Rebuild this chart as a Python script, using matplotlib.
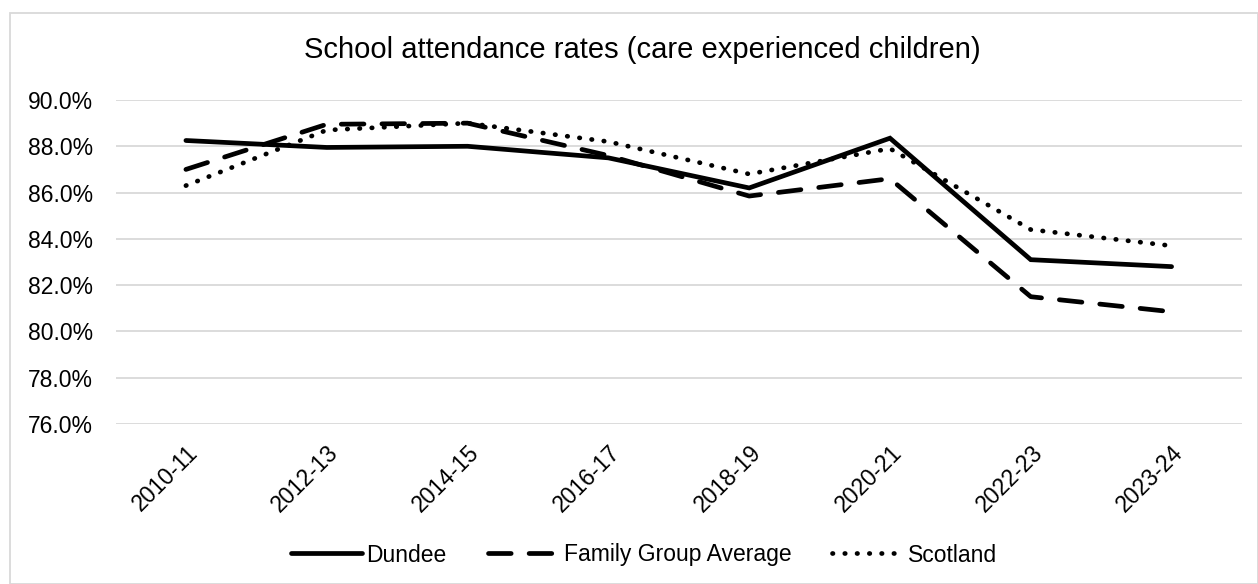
import matplotlib.pyplot as plt
from matplotlib.patches import Rectangle
from matplotlib.ticker import FuncFormatter

years = ["2010-11", "2012-13", "2014-15", "2016-17", "2018-19", "2020-21", "2022-23", "2023-24"]
dundee = [88.25, 87.95, 88.0, 87.5, 86.2, 88.35, 83.1, 82.8]
family_avg = [87.0, 88.95, 89.0, 87.6, 85.85, 86.6, 81.5, 80.85]
scotland = [86.3, 88.7, 89.0, 88.2, 86.8, 87.9, 84.4, 83.7]

plt.rcParams['font.family'] = ['Liberation Sans', 'DejaVu Sans']

W, H = 1258, 584
fig = plt.figure(figsize=(W / 100, H / 100), dpi=100)
ax = fig.add_axes([115.5 / W, 1 - 424 / H, (1242 - 115.5) / W, 324 / H])

x = range(len(years))
ax.plot(x, dundee, color='black', lw=3.4, solid_capstyle='round', solid_joinstyle='miter', label='Dundee')
ax.plot(x, family_avg, color='black', lw=3.4, dashes=(4.8, 3.8), dash_capstyle='round', label='Family Group Average')
ax.plot(x, scotland, color='black', lw=3.4, dashes=(0.1, 2.5), dash_capstyle='round', label='Scotland')

ax.set_xlim(-0.5, len(years) - 0.5)
ax.set_ylim(76, 90)
ax.set_yticks(range(76, 91, 2))
ax.yaxis.set_major_formatter(FuncFormatter(lambda v, p: f"{v:.1f}%"))
ax.set_xticks(list(x))
ax.set_xticklabels(years, rotation=45, ha='right', rotation_mode='anchor')
ax.tick_params(axis='both', length=0, labelsize=16.5, colors='black')
ax.tick_params(axis='x', pad=12)
ax.tick_params(axis='y', pad=16)
ax.grid(axis='y', color='#d9d9d9', lw=1.3)
ax.set_axisbelow(True)
for s in ax.spines.values():
    s.set_visible(False)

fig.text(642 / W, 1 - 50 / H, "School attendance rates (care experienced children)",
         ha='center', va='center', fontsize=21)

leg = fig.legend(loc='center', bbox_to_anchor=(644 / W, 1 - 555 / H), ncol=3, frameon=False,
                 fontsize=16.5, handlelength=3.1, handletextpad=0.2, columnspacing=1.8)

fig.patches.append(Rectangle((10 / W, 0), 1 - 10 / W, 1 - 13 / H, transform=fig.transFigure,
                             fill=False, edgecolor='#d9d9d9', lw=1.3))

fig.savefig('out.png', dpi=100)
